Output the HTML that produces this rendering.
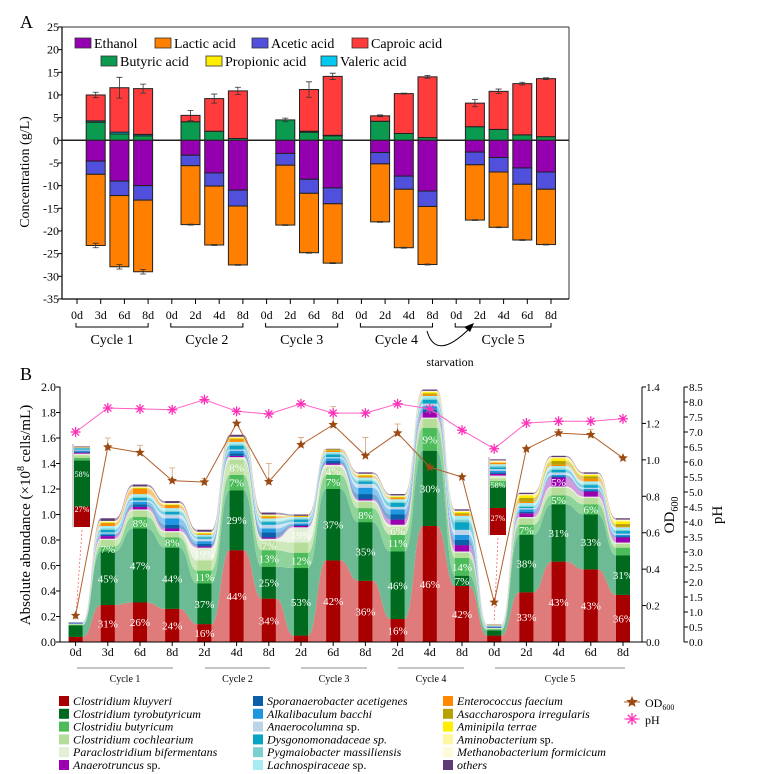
<!DOCTYPE html>
<html><head><meta charset="utf-8"><style>
html,body{margin:0;padding:0;background:#fff;}
svg{display:block;font-family:"Liberation Serif",serif;}
</style></head><body>
<svg id="s" width="768" height="774" viewBox="0 0 768 774" xmlns="http://www.w3.org/2000/svg">
<text x="20" y="28" font-size="18">A</text>
<text x="20" y="380" font-size="18">B</text>
<g id="ga"></g>
<g id="gb"></g>
</svg>
<script>
// ---------- Panel A data ----------
const aLabels=['0d','3d','6d','8d','0d','2d','4d','8d','0d','2d','6d','8d','0d','2d','4d','8d','0d','2d','4d','6d','8d'];
const aCycles=['Cycle 1','Cycle 2','Cycle 3','Cycle 4','Cycle 5'];
const butyric=[0,4,1.4,1.0,0,4.1,2.0,0.4,0,4.5,1.8,1.0,0,4.2,1.5,0.6,0,3.0,2.4,1.2,0.8];
const propionic=[0,0,0,0,0,0,0,0,0,0,0.1,0,0,0,0,0,0,0,0,0,0];
const valeric=[0,0.3,0.4,0.3,0,0,0,0,0,0,0.1,0.1,0,0,0,0,0,0,0,0,0];
const caproic=[0,5.7,9.8,10.1,0,1.4,7.2,10.5,0,0,9.2,13.0,0,1.2,8.8,13.4,0,5.2,8.4,11.3,12.8];
const ethanol=[0,4.6,9,10,0,3.3,7.2,11,0,2.9,8.6,10.5,0,2.7,7.9,11.2,0,2.6,3.8,6.1,7];
const acetic=[0,2.9,3.2,3.2,0,2.3,2.9,3.5,0,2.6,3.1,3.5,0,2.5,2.9,3.4,0,2.8,3.2,3.6,3.8];
const lactic=[0,15.7,15.7,15.8,0,13,13,13,0,13.2,13.1,13.1,0,12.8,12.9,12.8,0,12.2,12.2,12.3,12.2];
const capErr=[0,0.6,2.3,1,0,1.1,1,0.8,0,0.4,1.7,0.7,0,0.2,0.1,0.3,0,0.8,0.5,0.3,0.2];
const lacErr=[0,0.5,0.5,0.5,0,0.1,0.1,0.1,0,0.1,0.1,0.1,0,0.1,0.1,0.1,0,0.1,0.1,0.1,0.1];
const aTicks=[25,20,15,10,5,0,-5,-10,-15,-20,-25,-30,-35];

// ---------- Panel B data ----------
const bLabels=['0d','3d','6d','8d','2d','4d','8d','2d','6d','8d','2d','4d','8d','0d','2d','4d','6d','8d'];
const kluyveri=[.04,.29,.31,.26,.14,.72,.34,.05,.64,.48,.18,.91,.44,.05,.39,.63,.57,.37];
const tyrobutyricum=[.09,.42,.58,.48,.32,.47,.25,.53,.56,.46,.53,.59,.08,.04,.45,.45,.43,.31];
const butyricum=[.005,.04,.09,.08,.10,.12,.13,.12,.11,.11,.13,.18,.14,.01,.08,.07,.08,.06];
const cochlearium=[.005,.05,.05,.04,.08,.12,.07,.08,.06,.05,.06,.07,.04,.005,.05,.06,.05,.03];
const bifermentans=[.003,.01,.01,.01,.10,.02,.02,.12,.02,.01,.02,.01,.01,.005,.01,.01,.01,.01];
const anaerotruncus=[.002,.02,.02,.02,.01,.01,.01,.01,.01,.01,.04,.04,.05,.003,.03,.07,.04,.04];
const sporanaerobacter=[.002,.01,.02,.03,.02,.02,.04,.01,.02,.04,.04,.02,.04,.003,.01,.01,.01,.01];
const alkalibaculum=[.002,.01,.02,.05,.02,.02,.03,.01,.02,.05,.04,.03,.04,.003,.02,.01,.01,.01];
const anaerocolumna=[.002,.01,.01,.03,.02,.01,.03,.01,.01,.03,.02,.02,.04,.003,.01,.02,.01,.01];
const dysgonomonadaceae=[.002,.02,.02,.02,.01,.03,.02,.02,.02,.02,.03,.03,.06,.003,.01,.02,.02,.02];
const pygmaiobacter=[.001,.01,.01,.01,.01,.01,.01,.01,.01,.01,.01,.01,.02,.003,.01,.01,.01,.01];
const lachnospiraceae=[.001,.02,.02,.02,.01,.02,.02,.01,.01,.02,.02,.02,.03,.003,.02,.02,.02,.02];
const enterococcus=[.001,.02,.04,.02,.005,.02,.01,.005,.01,.01,.01,.01,.01,.003,.01,.01,.02,.005];
const asaccharospora=[0,.005,.005,.005,.005,.005,.005,0,.005,.005,.005,.01,.01,0,.03,.03,.02,.02];
const aminipila=[0,.005,.005,.005,.005,.005,.005,.005,.005,.005,.005,.01,.01,0,.02,.02,.01,.02];
const aminobacterium=[0,.005,.005,.005,.005,.005,.005,0,0,.005,.005,.005,.005,.002,.005,.005,.005,.01];
const methanobacterium=[0,.005,.005,.005,.005,.005,.005,0,0,.005,.005,.005,.005,.002,.005,.005,.005,.005];
const others=[.001,.02,.015,.015,.015,.015,.015,.01,.005,.01,.01,.01,.01,.002,.01,.01,.01,.01];
const klLab=['','31%','26%','24%','16%','44%','34%','','42%','36%','16%','46%','42%','','33%','43%','43%','36%'];
const tyLab=['','45%','47%','44%','37%','29%','25%','53%','37%','35%','46%','30%','7%','','38%','31%','33%','31%'];
const buLab=['','7%','8%','8%','11%','7%','13%','12%','7%','8%','11%','9%','14%','','7%','5%','6%',''];
const coLab=['','','','','','8%','7%','','4%','','6%','','','','','','',''];
const paLab=['','','','','19%','','','19%','','','','','','','','','',''];
const anLab=['','','','','','','','','','','','','','','','5%','',''];
const od600=[.145,1.07,1.04,.886,.878,1.20,.88,1.083,1.193,1.023,1.147,.96,.906,.218,1.06,1.147,1.138,1.01];
const odErr=[0,.05,.04,.07,.02,0,.1,.04,.1,.1,.05,0,0,0,.01,.02,.03,0];
const pH=[7.0,7.8,7.77,7.74,8.08,7.69,7.6,7.94,7.63,7.63,7.94,7.77,7.06,6.44,7.3,7.36,7.36,7.44];
const bTicks=[0,.2,.4,.6,.8,1.0,1.2,1.4,1.6,1.8,2.0];
const odTicks=[0,.2,.4,.6,.8,1.0,1.2,1.4];
const phTicks=[0,.5,1,1.5,2,2.5,3,3.5,4,4.5,5,5.5,6,6.5,7,7.5,8,8.5];

const NS='http://www.w3.org/2000/svg';
function mk(parent,tag,attrs,txt){const e=document.createElementNS(NS,tag);for(const k in attrs)e.setAttribute(k,attrs[k]);if(txt!==undefined)e.textContent=txt;parent.appendChild(e);return e;}

// ================= Panel A =================
const ga=document.getElementById('ga');
const aL=62,aR=569,aT=27,aB=299;
const yA=v=>140.3-v*4.533;
const xA=i=>77+i*23.7;
mk(ga,'line',{x1:aL,y1:aT,x2:aR,y2:aT,stroke:'#777','stroke-width':1.5});
mk(ga,'line',{x1:aR,y1:aT,x2:aR,y2:aB,stroke:'#333','stroke-width':1});
mk(ga,'line',{x1:aL,y1:aT,x2:aL,y2:aB,stroke:'#000','stroke-width':1.2});
mk(ga,'line',{x1:aL,y1:aB,x2:aR,y2:aB,stroke:'#000','stroke-width':1.2});
aTicks.forEach(t=>{
 const g=mk(ga,'g',{});
 
 
 mk(g,'line',{x1:aL-4,y1:yA(t),x2:aL,y2:yA(t),stroke:'#000'});
 mk(g,'text',{x:aL-3,y:yA(t)+4,'font-size':12,'text-anchor':'end'},String(t));
});
const yta=mk(ga,'text',{x:0,y:0,'font-size':14,'text-anchor':'middle',transform:'translate(29,172) rotate(-90)'},'Concentration (g/L)');


aLabels.forEach((l,i)=>{
 mk(ga,'line',{x1:xA(i),y1:aB,x2:xA(i),y2:aB+5,stroke:'#000'});
 const t=mk(ga,'text',{x:xA(i),y:319,'font-size':12,'text-anchor':'middle'},l);
 
 
});
const cycStartA=[0,4,8,12,16],cycEndA=[3,7,11,15,20];
aCycles.forEach((c,k)=>{
 const x1=xA(cycStartA[k])-1,x2=xA(cycEndA[k]);
 const g=mk(ga,'g',{});
 
 
 mk(g,'path',{d:`M${x1},323 V327 H${x2} V323`,fill:'none',stroke:'#000'});
 mk(g,'text',{x:(x1+x2)/2,y:344,'font-size':14,'text-anchor':'middle'},c);
});
const st=mk(ga,'path',{d:'M427,331 Q436,362 470,328',fill:'none',stroke:'#000','stroke-width':1});


mk(ga,'path',{d:'M474,323 L464,327 L470,332 Z',fill:'#000'});
const stt=mk(ga,'text',{x:450,y:366,'font-size':12,'text-anchor':'middle'},'starvation');


// zero line
mk(ga,'line',{x1:aL,y1:yA(0),x2:aR,y2:yA(0),stroke:'#222','stroke-width':1.5});
const posSeries=[[butyric,'#0a9a50'],[propionic,'#ffee00'],[valeric,'#00c8f0'],[caproic,'#ff3b3b']];
const negSeries=[[ethanol,'#9400b0'],[acetic,'#5050dc'],[lactic,'#ff7f00']];
const bwA=19;
aLabels.forEach((l,i)=>{
 const cx=xA(i)-5;
 let cum=0;
 posSeries.forEach(([arr,col])=>{
  const v=arr[i]; if(v<=0)return;
  const r=mk(ga,'rect',{x:cx-bwA/2,y:yA(cum+v),width:bwA,height:v*4.533,fill:col,stroke:'#222','stroke-width':1});
  
  
  cum+=v;
 });
 if(cum>0&&capErr[i]>0){
  const y1=yA(cum+capErr[i]),y2=yA(cum-capErr[i]);
  mk(ga,'path',{d:`M${cx},${y1}V${y2}M${cx-3},${y1}H${cx+3}M${cx-3},${y2}H${cx+3}`,stroke:'#333',fill:'none','stroke-width':0.8});
 }
 let nc=0;
 negSeries.forEach(([arr,col])=>{
  const v=arr[i]; if(v<=0)return;
  const r=mk(ga,'rect',{x:cx-bwA/2,y:yA(-nc),width:bwA,height:v*4.533,fill:col,stroke:'#222','stroke-width':1});
  
  
  nc+=v;
 });
 if(nc>0){
  const y1=yA(-nc+lacErr[i]),y2=yA(-nc-lacErr[i]);
  mk(ga,'path',{d:`M${cx},${y1}V${y2}M${cx-3},${y1}H${cx+3}M${cx-3},${y2}H${cx+3}`,stroke:'#333',fill:'none','stroke-width':0.8});
 }
});
const legA=[['Ethanol','#9400b0',75,43],['Lactic acid','#ff7f00',155,43],['Acetic acid','#5050dc',252,43],['Caproic acid','#ff3b3b',352,43],
 ['Butyric acid','#0a9a50',101,61],['Propionic acid','#ffee00',206,61],['Valeric acid','#00c8f0',321,61]];
legA.forEach(([n,c,x,y])=>{
 const g=mk(ga,'g',{});
 
 
 mk(g,'rect',{x:x,y:y-5,width:16,height:10,fill:c,stroke:'#333','stroke-width':0.8});
 mk(g,'text',{x:x+19,y:y+5,'font-size':14},n);
});

// ================= Panel B =================
const gb=document.getElementById('gb');
const bL=60,bR=642,bT=387,bBot=642;
const yB=v=>bBot-v*127.5;
const yOD=v=>bBot-v*(255/1.4);
const yPH=v=>bBot-v*(255/8.5);
const xB=i=>75.6+i*32.2;
const bw=14,hw=bw/2;
const species=[
 [kluyveri,'#a80000','#df7b7b'],[tyrobutyricum,'#006b1f','#6dbb94'],[butyricum,'#4cbb5a','#8fd49a'],
 [cochlearium,'#b6dd99','#cde8bb'],[bifermentans,'#e2efd6','#eef5e6'],[anaerotruncus,'#9a00b0','#d49ae0'],
 [sporanaerobacter,'#0a5fa8','#7aa6d4'],[alkalibaculum,'#1e96e0','#8cc7ee'],[anaerocolumna,'#bcd4ea','#d8e6f3'],
 [dysgonomonadaceae,'#0aa3c4','#7dcfe2'],[pygmaiobacter,'#7ccfd0','#b4e4e4'],[lachnospiraceae,'#a6ecf2','#cdf4f8'],
 [enterococcus,'#ff8a00','#ffc27a'],[asaccharospora,'#b8a000','#dccf7a'],[aminipila,'#ffee00','#fff680'],
 [aminobacterium,'#fff6a0','#fffacc'],[methanobacterium,'#fffbd8','#fffdec'],[others,'#5e3b72','#a995b5']];
const n=bLabels.length;
const cumB=new Array(n).fill(0);
const layers=[];
species.forEach(([arr,dark,light])=>{
 const bot=cumB.slice();
 for(let i=0;i<n;i++)cumB[i]+=arr[i];
 layers.push({bot,top:cumB.slice(),dark,light,arr});
});
function edge(vals,rev){
 const pts=[];
 for(let i=0;i<n;i++){pts.push([xB(i)-hw,yB(vals[i])]);pts.push([xB(i)+hw,yB(vals[i])]);}
 if(rev)pts.reverse();
 let d='';
 for(let k=0;k<pts.length;k++){
  const [x,y]=pts[k];
  if(k===0){d+=`M${x},${y}`;continue;}
  const [px,py]=pts[k-1];
  if(Math.abs(py-y)<0.01&&((k%2)===1)){d+=`L${x},${y}`;}
  else{const mx=(px+x)/2;d+=`C${mx},${py} ${mx},${y} ${x},${y}`;}
 }
 return d;
}
layers.forEach(L=>{
 const top=edge(L.top,false);
 const bot=edge(L.bot,true).replace(/^M/,'L');
 const p=mk(gb,'path',{d:top+bot+'Z',fill:L.light,stroke:'none'});
 
 
});
layers.forEach(L=>{
 for(let i=0;i<n;i++){
  const v=L.arr[i]; if(v<=0)continue;
  const r=mk(gb,'rect',{x:xB(i)-hw,y:yB(L.top[i]),width:bw,height:v*127.5,fill:L.dark});
  
  
 }
});
const labSets=[[klLab,0],[tyLab,1],[buLab,2],[coLab,3],[paLab,4],[anLab,5]];
labSets.forEach(([labs,li])=>{
 labs.forEach((s,i)=>{
  if(!s)return;
  const L=layers[li];
  const t=mk(gb,'text',{x:xB(i),y:yB((L.bot[i]+L.top[i])/2)+4,'font-size':11,'text-anchor':'middle',fill:'#fff'},s);
  
  
 });
});
// insets
function inset(x,y0,y1,i){
 const g=mk(gb,'g',{});
 
 
 const tot=cumB[i],h=y1-y0;
 let c=0;
 layers.forEach(L=>{const v=L.arr[i];const yy=y1-(c+v)/tot*h*0.97;mk(g,'rect',{x:x,y:yy,width:16,height:v/tot*h*0.97,fill:L.dark});c+=v;});
 mk(g,'line',{x1:x-1,y1:y0,x2:x-1,y2:y1,stroke:'#444','stroke-width':0.5});
 mk(g,'text',{x:x+8,y:y1-h*0.18,'font-size':8,'text-anchor':'middle',fill:'#fff'},'27%');
 mk(g,'text',{x:x+8,y:y1-h*0.6,'font-size':8,'text-anchor':'middle',fill:'#fff'},'58%');
 mk(g,'line',{x1:x+8,y1:y1+3,x2:xB(i),y2:yB(tot)-2,stroke:'#f66','stroke-dasharray':'2,2','stroke-width':0.8});
}
inset(74,444,527,0);
inset(490,457,535,13);
// axes
mk(gb,'line',{x1:bL,y1:bT,x2:bL,y2:bBot,stroke:'#000'});
mk(gb,'line',{x1:bL,y1:bBot,x2:bR,y2:bBot,stroke:'#000'});
mk(gb,'line',{x1:bR,y1:bT,x2:bR,y2:bBot,stroke:'#000'});
mk(gb,'line',{x1:684,y1:bT,x2:684,y2:bBot,stroke:'#000'});
bTicks.forEach(t=>{
 mk(gb,'line',{x1:bL-4,y1:yB(t),x2:bL,y2:yB(t),stroke:'#000'});
 const e=mk(gb,'text',{x:bL-4,y:yB(t)+4,'font-size':12,'text-anchor':'end'},t.toFixed(1));
 
 
});
odTicks.forEach(t=>{
 mk(gb,'line',{x1:bR,y1:yOD(t),x2:bR+4,y2:yOD(t),stroke:'#000'});
 const e=mk(gb,'text',{x:bR+4,y:yOD(t)+4,'font-size':11},t.toFixed(1));
 
 
});
phTicks.forEach(t=>{
 mk(gb,'line',{x1:684,y1:yPH(t),x2:688,y2:yPH(t),stroke:'#000'});
 const e=mk(gb,'text',{x:689,y:yPH(t)+4,'font-size':11},t.toFixed(1));
 
 
});
const ytb=mk(gb,'text',{x:0,y:0,'font-size':15,'text-anchor':'middle',transform:'translate(30,515) rotate(-90)'});


ytb.innerHTML='Absolute abundance (×10<tspan font-size="10" dy="-6">8</tspan><tspan dy="6"> cells/mL)</tspan>';
const odt=mk(gb,'text',{x:0,y:0,'font-size':15,'text-anchor':'middle',transform:'translate(674,515) rotate(-90)'});


odt.innerHTML='OD<tspan font-size="10" dy="4">600</tspan>';
const pht=mk(gb,'text',{x:0,y:0,'font-size':15,'text-anchor':'middle',transform:'translate(722,515) rotate(-90)'},'pH');


bLabels.forEach((l,i)=>{
 mk(gb,'line',{x1:xB(i),y1:bBot,x2:xB(i),y2:bBot+4,stroke:'#000'});
 const t=mk(gb,'text',{x:xB(i),y:656,'font-size':12,'text-anchor':'middle'},l);
 
 
});
const cycX1=[77,205,301,398,495],cycX2=[173,270,367,464,625];
aCycles.forEach((c,k)=>{
 const g=mk(gb,'g',{});
 
 
 mk(g,'line',{x1:cycX1[k],y1:668,x2:cycX2[k],y2:668,stroke:'#666','stroke-width':0.8});
 mk(g,'text',{x:(cycX1[k]+cycX2[k])/2,y:682,'font-size':10,'text-anchor':'middle'},c);
});
// OD line
function star(g,x,y,r,col){let d='';for(let k=0;k<10;k++){const a=-Math.PI/2+k*Math.PI/5;const rr=k%2?r*0.45:r;d+=(k?'L':'M')+(x+rr*Math.cos(a))+','+(y+rr*Math.sin(a));}mk(g,'path',{d:d+'Z',fill:col});}
function aster(g,x,y,r,col){for(let k=0;k<4;k++){const a=k*Math.PI/4;mk(g,'line',{x1:x-r*Math.cos(a),y1:y-r*Math.sin(a),x2:x+r*Math.cos(a),y2:y+r*Math.sin(a),stroke:col,'stroke-width':1.3});}}
const odg=mk(gb,'g',{});


mk(odg,'polyline',{points:od600.map((v,i)=>xB(i)+','+yOD(v)).join(' '),fill:'none',stroke:'#b0602a','stroke-width':1});
od600.forEach((v,i)=>{
 if(odErr[i]>0)mk(odg,'path',{d:`M${xB(i)},${yOD(v)}V${yOD(v+odErr[i])}M${xB(i)-3},${yOD(v+odErr[i])}H${xB(i)+3}`,stroke:'#d9a070','stroke-width':0.8,fill:'none'});
 star(odg,xB(i),yOD(v),5,'#9a4a12');
});
const phg=mk(gb,'g',{});


mk(phg,'polyline',{points:pH.map((v,i)=>xB(i)+','+yPH(v)).join(' '),fill:'none',stroke:'#ff60c8','stroke-width':1});
pH.forEach((v,i)=>aster(phg,xB(i),yPH(v),5,'#ff30b8'));
// legend B
const legNames=[
 ['Clostridium kluyveri',''],['Clostridium tyrobutyricum',''],['Clostridiu butyricum',''],['Clostridium cochlearium',''],['Paraclostridium bifermentans',''],['Anaerotruncus',' sp.'],
 ['Sporanaerobacter acetigenes',''],['Alkalibaculum bacchi',''],['Anaerocolumna',' sp.'],['Dysgonomonadaceae sp.',''],['Pygmaiobacter massiliensis',''],['Lachnospiraceae',' sp.'],
 ['Enterococcus faecium',''],['Asaccharospora irregularis',''],['Aminipila terrae',''],['Aminobacterium',' sp.'],['Methanobacterium formicicum',''],['others','']];
const colX=[59,253,443];
legNames.forEach(([nm,sp],k)=>{
 const col=Math.floor(k/6),row=k%6;
 const x=colX[col],y=701+row*12.8;
 const g=mk(gb,'g',{});
 
 
 mk(g,'rect',{x:x,y:y-5,width:10,height:10,fill:species[k][1]});
 const t=mk(g,'text',{x:x+14,y:y+4,'font-size':12});
 mk(t,'tspan',{'font-style':'italic'},nm);
 if(sp)mk(t,'tspan',{},sp);
});
const lo=mk(gb,'g',{});


mk(lo,'line',{x1:624,y1:702,x2:640,y2:702,stroke:'#b0602a'});
star(lo,632,702,6,'#9a4a12');
const lot=mk(lo,'text',{x:645,y:707,'font-size':12});
lot.innerHTML='OD<tspan font-size="8" dy="3">600</tspan>';
const lp=mk(gb,'g',{});


mk(lp,'line',{x1:624,y1:719,x2:640,y2:719,stroke:'#ff60c8'});
aster(lp,632,719,6,'#ff30b8');
mk(lp,'text',{x:645,y:724,'font-size':12},'pH');
</script>
</body></html>
